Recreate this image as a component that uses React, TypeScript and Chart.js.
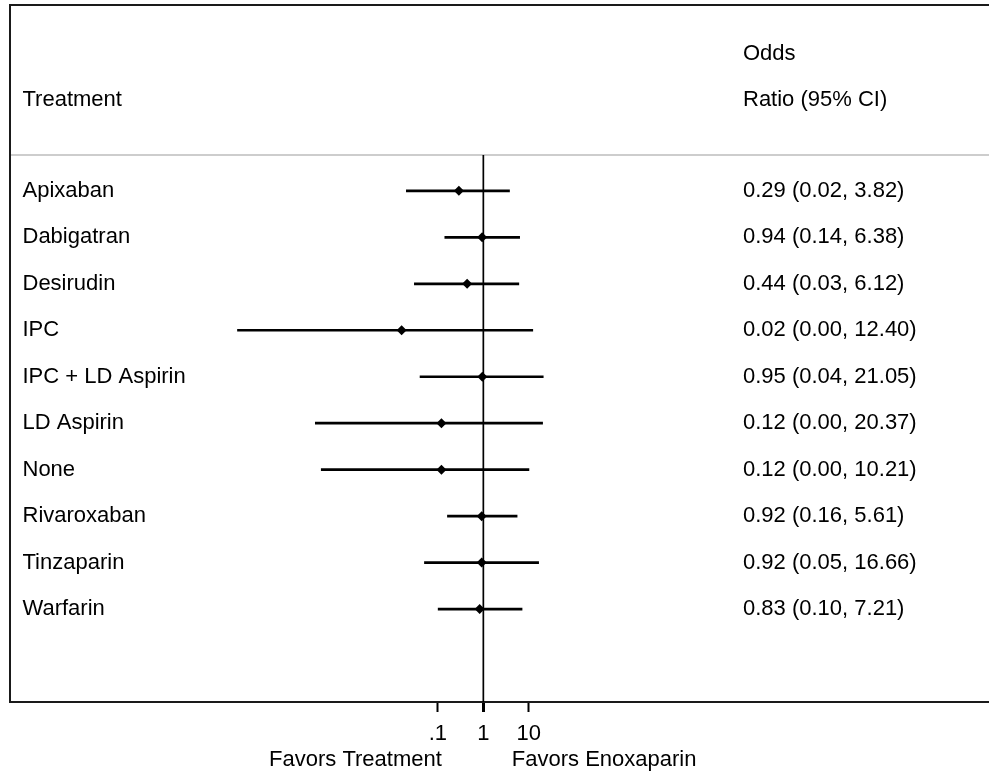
import React, { useEffect, useRef } from 'react';
import { Chart, registerables } from 'chart.js';

Chart.register(...registerables);

// ---------- data ----------
const treatments = [
  'Apixaban',
  'Dabigatran',
  'Desirudin',
  'IPC',
  'IPC + LD Aspirin',
  'LD Aspirin',
  'None',
  'Rivaroxaban',
  'Tinzaparin',
  'Warfarin',
];
const oddsRatios = [0.29, 0.94, 0.44, 0.016, 0.95, 0.12, 0.12, 0.92, 0.92, 0.83];
const ciLower = [0.02, 0.14, 0.03, 0.0000039, 0.04, 0.0002, 0.00027, 0.16, 0.05, 0.1];
const ciUpper = [3.82, 6.38, 6.12, 12.4, 21.05, 20.37, 10.21, 5.61, 16.66, 7.21];
const orLabels = [
  '0.29 (0.02, 3.82)',
  '0.94 (0.14, 6.38)',
  '0.44 (0.03, 6.12)',
  '0.02 (0.00, 12.40)',
  '0.95 (0.04, 21.05)',
  '0.12 (0.00, 20.37)',
  '0.12 (0.00, 10.21)',
  '0.92 (0.16, 5.61)',
  '0.92 (0.05, 16.66)',
  '0.83 (0.10, 7.21)',
];
const xTickValues = [0.1, 1, 10];
const xTickLabels = ['.1', '1', '10'];
const headerLeft = 'Treatment';
const headerRight = ['Odds', 'Ratio (95% CI)'];
const favorsLeft = 'Favors Treatment';
const favorsRight = 'Favors Enoxaparin';
const nullValue = 1;

// ---------- layout constants ----------
const W = 989;
const H = 776;
const FONT = '"Liberation Sans", Arial, Helvetica, sans-serif';
const FONT_SIZE = 22;
const X_MIN = Math.pow(10, -10.4);
const X_MAX = Math.pow(10, 11.11);
const Y_MIN = -4;
const Y_MAX = 11;
const SEPARATOR_Y = -0.77;

const forestPlugin = {
  id: 'forestPlugin',
  beforeDatasetsDraw(chart: any) {
    const { ctx, chartArea, scales } = chart;
    const sy = scales.y.getPixelForValue(SEPARATOR_Y);
    ctx.save();
    ctx.strokeStyle = '#bdbdbd';
    ctx.lineWidth = 1.5;
    ctx.beginPath();
    ctx.moveTo(chartArea.left, sy);
    ctx.lineTo(chartArea.right, sy);
    ctx.stroke();
    ctx.restore();
  },
  afterDraw(chart: any) {
    const { ctx, chartArea, scales } = chart;
    const xs = scales.x;
    const ys = scales.y;
    ctx.save();
    // frame (left + top)
    ctx.strokeStyle = '#1a1a1a';
    ctx.lineWidth = 2;
    ctx.beginPath();
    ctx.moveTo(chartArea.left, chartArea.bottom);
    ctx.lineTo(chartArea.left, chartArea.top);
    ctx.lineTo(chartArea.right, chartArea.top);
    ctx.stroke();

    ctx.fillStyle = '#000';
    ctx.font = `${FONT_SIZE}px ${FONT}`;
    ctx.textBaseline = 'middle';
    ctx.textAlign = 'left';
    const nameX = chartArea.left + 12.5;
    const orX = chartArea.left + 733;
    // headers
    ctx.fillText(headerLeft, nameX, ys.getPixelForValue(-1.95));
    ctx.fillText(headerRight[0], orX, ys.getPixelForValue(-2.95));
    ctx.fillText(headerRight[1], orX, ys.getPixelForValue(-1.95));
    // rows
    treatments.forEach((t, i) => {
      const py = ys.getPixelForValue(i);
      ctx.fillText(t, nameX, py);
      ctx.fillText(orLabels[i], orX, py);
    });
    // favors labels
    const p1 = xs.getPixelForValue(nullValue);
    const fy = chartArea.bottom + 58;
    ctx.textAlign = 'right';
    ctx.fillText(favorsLeft, p1 - 41.5, fy);
    ctx.textAlign = 'left';
    ctx.fillText(favorsRight, p1 + 28.5, fy);
    ctx.restore();
  },
};

export default function App() {
  const canvasRef = useRef<HTMLCanvasElement | null>(null);

  useEffect(() => {
    if (!canvasRef.current) return;
    const ciDatasets = treatments.map((t, i) => ({
      label: t,
      data: [
        { x: ciLower[i], y: i },
        { x: ciUpper[i], y: i },
      ],
      showLine: true,
      borderColor: '#000',
      borderWidth: 2.7,
      pointRadius: 0,
      pointHoverRadius: 0,
    }));
    const chart = new Chart(canvasRef.current, {
      type: 'scatter',
      data: {
        datasets: [
          {
            label: 'Odds ratio',
            data: oddsRatios.map((v, i) => ({ x: v, y: i })),
            pointStyle: 'rectRot',
            pointRadius: 5,
            backgroundColor: '#000',
            borderColor: '#000',
            borderWidth: 0,
          },
          ...ciDatasets,
          {
            label: 'No effect',
            data: [
              { x: nullValue, y: SEPARATOR_Y },
              { x: nullValue, y: Y_MAX },
            ],
            showLine: true,
            borderColor: '#000',
            borderWidth: 1.7,
            pointRadius: 0,
          },
        ] as any,
      },
      options: {
        animation: false,
        responsive: false,
        maintainAspectRatio: false,
        layout: { autoPadding: false, padding: { top: 5, left: 10, right: 0, bottom: 19.6 } },
        plugins: {
          legend: { display: false },
          tooltip: { enabled: false },
        },
        scales: {
          x: {
            type: 'logarithmic',
            min: X_MIN,
            max: X_MAX,
            bounds: 'data',
            position: 'bottom',
            afterBuildTicks: (scale: any) => {
              scale.ticks = xTickValues.map((v) => ({ value: v }));
            },
            ticks: {
              autoSkip: false,
              maxRotation: 0,
              padding: 9,
              color: '#000',
              font: { family: FONT, size: FONT_SIZE },
              callback: (value: any) => {
                const idx = xTickValues.indexOf(Number(value));
                return idx >= 0 ? xTickLabels[idx] : '';
              },
            },
            grid: {
              drawOnChartArea: false,
              drawTicks: true,
              tickLength: 10,
              tickColor: '#000',
              tickWidth: (ctx: any) => (ctx.tick && ctx.tick.value === nullValue ? 3 : 2),
            },
            border: { display: true, color: '#1a1a1a', width: 2 },
          },
          y: {
            type: 'linear',
            display: false,
            reverse: true,
            min: Y_MIN,
            max: Y_MAX,
          },
        },
      } as any,
      plugins: [forestPlugin],
    });
    return () => chart.destroy();
  }, []);

  return (
    <div style={{ position: 'absolute', left: 0, top: 0, width: W, height: H, background: '#fff' }}>
      <canvas ref={canvasRef} width={W} height={H} style={{ width: W, height: H, display: 'block' }} />
    </div>
  );
}
